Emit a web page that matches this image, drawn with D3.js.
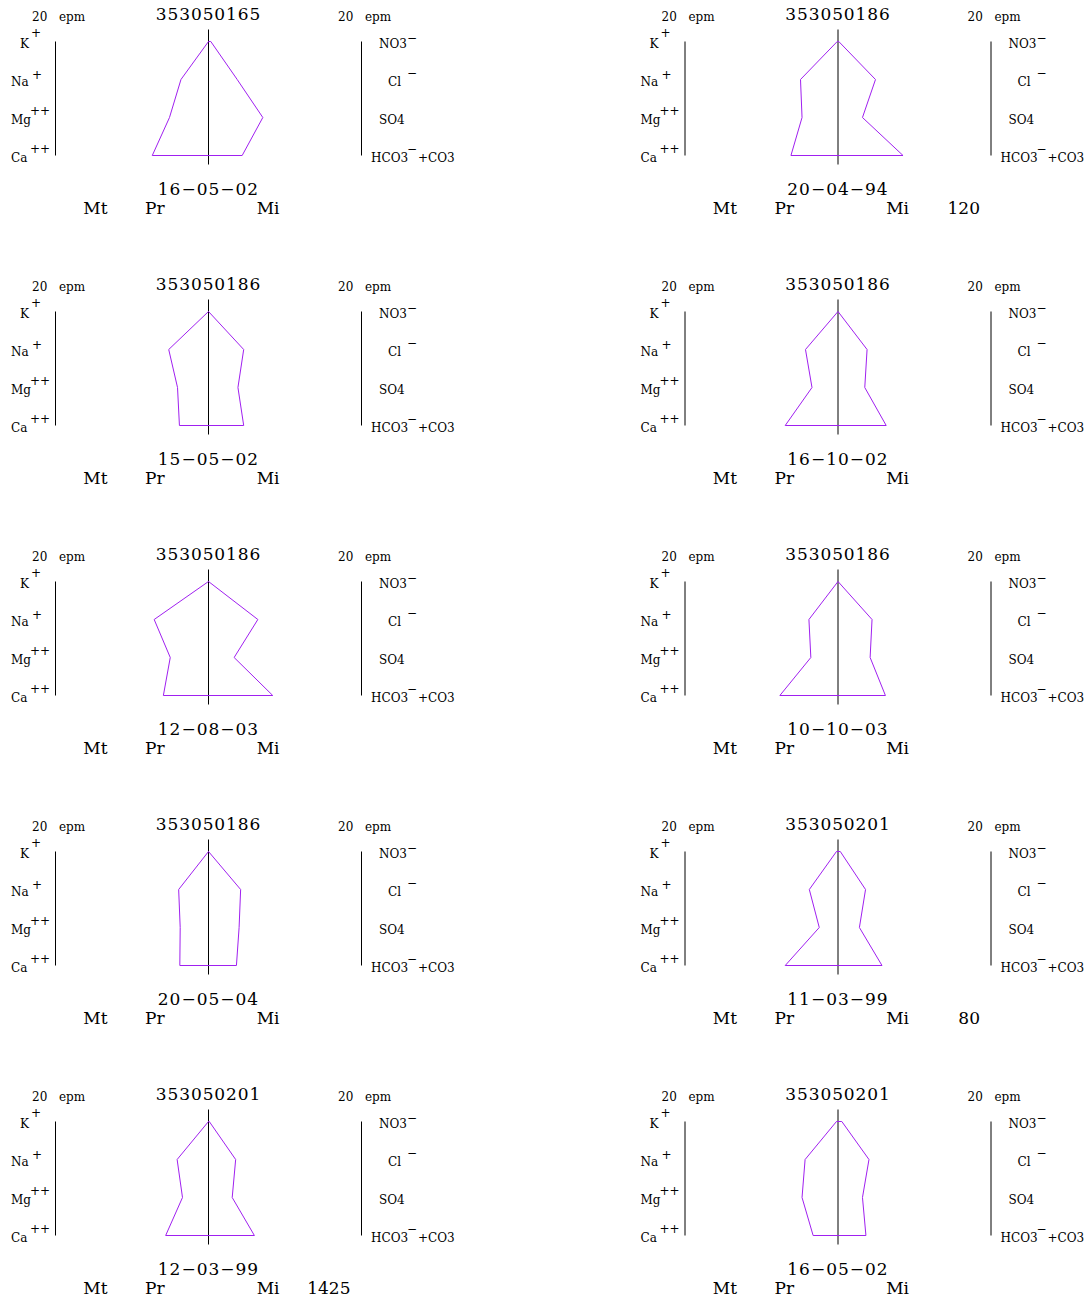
<!DOCTYPE html>
<html>
<head>
<meta charset="utf-8">
<script src="https://cdn.jsdelivr.net/npm/d3@7"></script>
<style>
  html, body { margin: 0; padding: 0; background: #ffffff; }
  svg { display: block; }
  text { font-family: "DejaVu Serif", serif; fill: #000; }
</style>
</head>
<body>
<script>
// Stiff diagrams of major ions (epm), one panel per sample
const wellIds = ["353050165", "353050186", "353050186", "353050186", "353050186",
                 "353050186", "353050186", "353050201", "353050201", "353050201"];
const sampleDates = ["16\u221205\u221202", "20\u221204\u221294", "15\u221205\u221202", "16\u221210\u221202",
                     "12\u221208\u221203", "10\u221210\u221203", "20\u221205\u221204", "11\u221203\u221299",
                     "12\u221203\u221299", "16\u221205\u221202"];
const sampleNotes = ["", "120", "", "", "", "", "", "80", "1425", ""];

// cations (left side)
const kValues  = [0.0, 0.1, 0.0, 0.0, 0.0, 0.0, 0.0, 0.2, 0.0, 0.2];
const naValues = [3.6, 4.9, 5.2, 4.25, 7.1, 3.8, 3.9, 3.75, 4.1, 4.3];
const mgValues = [5.1, 4.7, 4.05, 3.4, 5.0, 3.55, 3.7, 2.45, 3.4, 4.7];
const caValues = [7.35, 6.15, 3.8, 6.9, 5.9, 7.6, 3.75, 6.9, 5.6, 3.25];
// anions (right side)
const no3Values  = [0.3, 0.1, 0.0, 0.0, 0.0, 0.0, 0.0, 0.3, 0.1, 0.5];
const clValues   = [3.75, 4.9, 4.6, 3.8, 6.45, 4.45, 4.2, 3.6, 3.55, 4.05];
const so4Values  = [7.1, 3.2, 3.85, 3.5, 3.35, 4.2, 4.0, 2.8, 3.1, 3.2];
const hco3Values = [4.4, 8.5, 4.6, 6.3, 8.4, 6.2, 3.65, 5.75, 6.0, 3.65];

const cationLabels = [["K", "+"], ["Na", "+"], ["Mg", "++"], ["Ca", "++"]];
const anionLabels  = [["NO3", "\u2212", ""], ["Cl", "\u2212", ""], ["SO4", "", ""], ["HCO3", "\u2212", "+CO3"]];
const scaleLabel = ["20", "epm"];
const sideLabels = ["Mt", "Pr", "Mi"];
const scaleMax = 20;

// label placement inside a panel
const cationLabelX = [20, 11, 11, 11];
const cationSupX   = [31, 32, 30, 30];
const cationSupDy  = [-4.5, -0.5, -3, -3];
const anionLabelX  = [379, 388, 379, 371];
const anionSupX    = 407;
const anionSupDy   = [0, -3, -3, -3];

const W = 1089, H = 1299;
const colStep = 629.5, rowStep = 270;

const svg = d3.select("body").append("svg")
  .attr("width", W).attr("height", H);

const x = d3.scaleLinear().domain([-scaleMax, scaleMax]).range([55.5, 361.5]);
const y = d3.scalePoint().domain([0, 1, 2, 3]).range([41.5, 155.5]);
const cx = x(0);

const line = d3.line().curve(d3.curveLinearClosed);

wellIds.forEach((id, i) => {
  const col = i % 2, row = Math.floor(i / 2);
  const g = svg.append("g")
    .attr("transform", `translate(${col * colStep},${row * rowStep})`);

  const cations = [kValues[i], naValues[i], mgValues[i], caValues[i]];
  const anions  = [no3Values[i], clValues[i], so4Values[i], hco3Values[i]];

  // side axes and centre line
  [x(-scaleMax), x(scaleMax)].forEach(ax => {
    g.append("line")
      .attr("x1", ax).attr("x2", ax)
      .attr("y1", y(0)).attr("y2", y(3))
      .attr("stroke", "#000").attr("stroke-width", 1);
  });
  g.append("line")
    .attr("x1", cx).attr("x2", cx)
    .attr("y1", y(0) - 12).attr("y2", y(3) + 9)
    .attr("stroke", "#000").attr("stroke-width", 1);

  // Stiff polygon: cations down the left, anions back up the right
  const pts = cations.map((v, k) => [x(-v), y(k)])
    .concat(anions.map((v, k) => [x(v), y(k)]).reverse());
  g.append("path")
    .attr("d", line(pts))
    .attr("fill", "none")
    .attr("stroke", "#a020f0")
    .attr("stroke-width", 1);

  // scale labels
  [[32, 59], [338, 365]].forEach(([x1, x2]) => {
    g.append("text").attr("x", x1).attr("y", 20.5)
      .attr("font-size", 12).text(scaleLabel[0]);
    g.append("text").attr("x", x2).attr("y", 20.5)
      .attr("font-size", 12).text(scaleLabel[1]);
  });

  // ion labels
  cationLabels.forEach(([base, sup], k) => {
    g.append("text").attr("x", cationLabelX[k]).attr("y", y(k) + 6)
      .attr("font-size", 12).text(base);
    g.append("text").attr("x", cationSupX[k]).attr("y", y(k) + cationSupDy[k])
      .attr("font-size", 12).text(sup);
  });
  anionLabels.forEach(([base, sup, tail], k) => {
    g.append("text").attr("x", anionLabelX[k]).attr("y", y(k) + 6)
      .attr("font-size", 12).text(base);
    if (sup) {
      g.append("text").attr("x", anionSupX).attr("y", y(k) + anionSupDy[k])
        .attr("font-size", 12).text(sup);
    }
    if (tail) {
      g.append("text").attr("x", 418).attr("y", y(k) + 6)
        .attr("font-size", 12).text(tail);
    }
  });

  // title and date
  g.append("text").attr("x", cx).attr("y", 19.5)
    .attr("text-anchor", "middle").attr("font-size", 17)
    .attr("letter-spacing", 0.9).text(id);
  g.append("text").attr("x", cx).attr("y", 195)
    .attr("text-anchor", "middle").attr("font-size", 17)
    .attr("letter-spacing", 1).text(sampleDates[i]);

  // bottom line: Mt  Pr  Mi  [note]
  [cx - 125.2, cx - 63.5, cx + 48.2].forEach((lx, k) => {
    g.append("text").attr("x", lx).attr("y", 213.5)
      .attr("font-size", 17).text(sideLabels[k]);
  });
  if (sampleNotes[i]) {
    g.append("text").attr("x", cx + 142).attr("y", 213.5)
      .attr("text-anchor", "end").attr("font-size", 17)
      .text(sampleNotes[i]);
  }
});
</script>
</body>
</html>
